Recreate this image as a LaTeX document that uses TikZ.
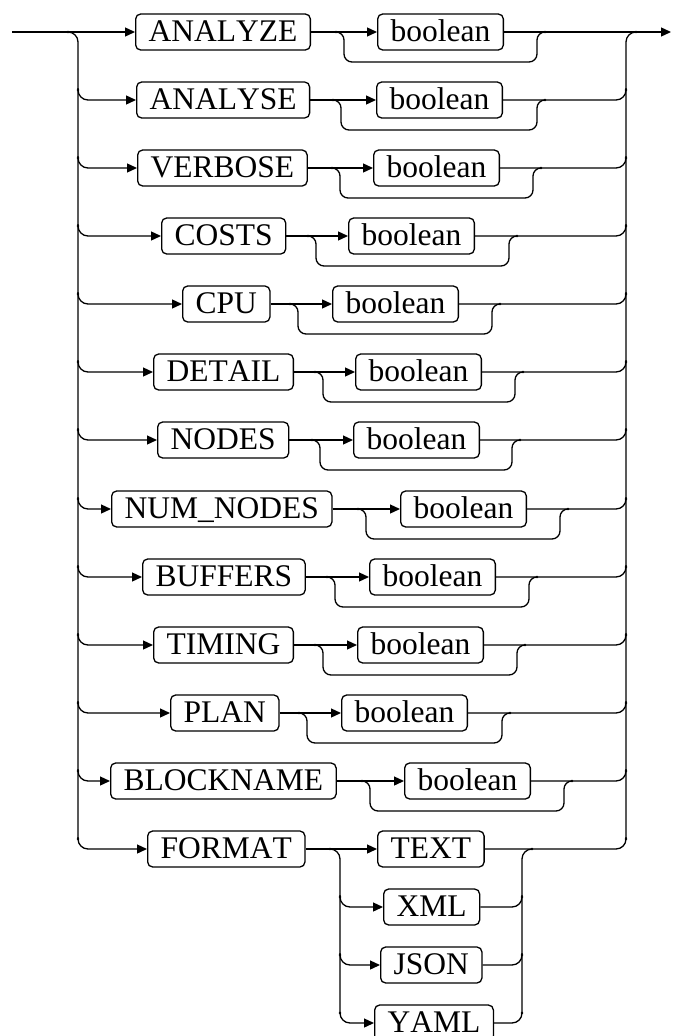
\documentclass[tikz,border=0pt]{standalone}
\usepackage{fontspec}
\setmainfont{Liberation Serif}[Kerning=Off]
\usetikzlibrary{arrows.meta}

\tikzset{
    rail/.style={line width=1.3pt, rounded corners=10pt},
    feed/.style={rail, -{Triangle[length=10pt,width=9pt]}},
    kw/.style={draw, line width=1.3pt, rounded corners=5pt, inner xsep=13pt, inner ysep=8.5pt,
        text height=19pt, text depth=0pt, font=\fontsize{31.5}{36}\selectfont},
}

\begin{document}
\begin{tikzpicture}[x=1pt, y=-1pt]
    \useasboundingbox (0,0) rectangle (672,1036);

    % Entry, exit and side bars
    \coordinate (start) at (12,32);
    \coordinate (stop) at (671,32);
    \draw[rail] (68,32) -| (78,839);
    \draw[rail] (636,32) -| (626,839);
    \fill (68,32) circle (1.3pt) (636,32) circle (1.3pt);

    % First row (on the main line)
    \node[kw, anchor=west] (kANALYZE) at (135,32) {ANALYZE};
    \node[kw, anchor=west] (bANALYZE) at (377,32) {boolean};
    \coordinate (jANALYZE) at (336,32);
    \coordinate (rANALYZE) at (545,32);
    \draw[feed] (start) -- (kANALYZE.west);
    \draw[rail] (kANALYZE.east) -- (jANALYZE);
    \draw[feed] (jANALYZE) -- (bANALYZE.west);
    \draw[feed] (bANALYZE.east) -- (rANALYZE) -- (stop);
    \draw[rail, rounded corners=8pt] (jANALYZE) -| (344,62) -| (537,32) -- (rANALYZE);
    \fill (jANALYZE) circle (1.3pt) (rANALYZE) circle (1.3pt);

    % Other keyword rows with optional boolean
    \foreach \nm/\lbl/\y/\kx/\jx/\bx/\rx in {
        ANALYSE/ANALYSE/100/136/333/376/545,
        VERBOSE/VERBOSE/168/137/332/373/541,
        COSTS/COSTS/236/161/308/348/517,
        CPU/CPU/304/182/290/332/500,
        DETAIL/DETAIL/372/153/315/355/523,
        NODES/NODES/440/157/312/353/520,
        NUMNODES/NUM\_NODES/509/111/358/400/568,
        BUFFERS/BUFFERS/577/142/327/369/537,
        TIMING/TIMING/645/153/315/357/525,
        PLAN/PLAN/713/170/299/341/510,
        BLOCKNAME/BLOCKNAME/781/110/362/404/572} {
        \node[kw, anchor=west] (k\nm) at (\kx,\y) {\lbl};
        \node[kw, anchor=west] (b\nm) at (\bx,\y) {boolean};
        \coordinate (j\nm) at (\jx,\y);
        \coordinate (r\nm) at (\rx,\y);
        \draw[feed] (78,\y-12) |- (k\nm.west);
        \draw[rail] (k\nm.east) -- (j\nm);
        \draw[feed] (j\nm) -- (b\nm.west);
        \draw[rail] (b\nm.east) -- (r\nm) -| (626,\y-12);
        \draw[rail, rounded corners=8pt] (j\nm) -| (\jx+8,\y+30) -| (\rx-8,\y) -- (r\nm);
        \fill (78,\y-10) circle (1.3pt) (626,\y-10) circle (1.3pt)
              (j\nm) circle (1.3pt) (r\nm) circle (1.3pt);
    }

    % FORMAT row and its choices
    \node[kw, anchor=west] (kFORMAT) at (147,849) {FORMAT};
    \coordinate (jFORMAT) at (330,849);
    \coordinate (rFORMAT) at (532,849);
    \draw[feed] (78,837) |- (kFORMAT.west);
    \draw[rail] (kFORMAT.east) -- (jFORMAT);
    \node[kw, anchor=west] (TEXT) at (377,849) {TEXT};
    \node[kw, anchor=west] (XML) at (383,907) {XML};
    \node[kw, anchor=west] (JSON) at (380,965) {JSON};
    \node[kw, anchor=west] (YAML) at (374,1023) {YAML};
    \draw[feed] (jFORMAT) -- (TEXT.west);
    \draw[rail] (TEXT.east) -- (rFORMAT) -| (626,837);
    \draw[rail] (jFORMAT) -| (340,1011);
    \draw[rail] (rFORMAT) -| (522,1011);
    \fill (78,839) circle (1.3pt) (626,839) circle (1.3pt)
          (jFORMAT) circle (1.3pt) (rFORMAT) circle (1.3pt);
    \foreach \f/\y in {XML/907, JSON/965, YAML/1023} {
        \draw[feed] (340,\y-12) |- (\f.west);
        \draw[rail] (\f.east) -| (522,\y-12);
        \fill (340,\y-10) circle (1.3pt) (522,\y-10) circle (1.3pt);
    }
\end{tikzpicture}
\end{document}
